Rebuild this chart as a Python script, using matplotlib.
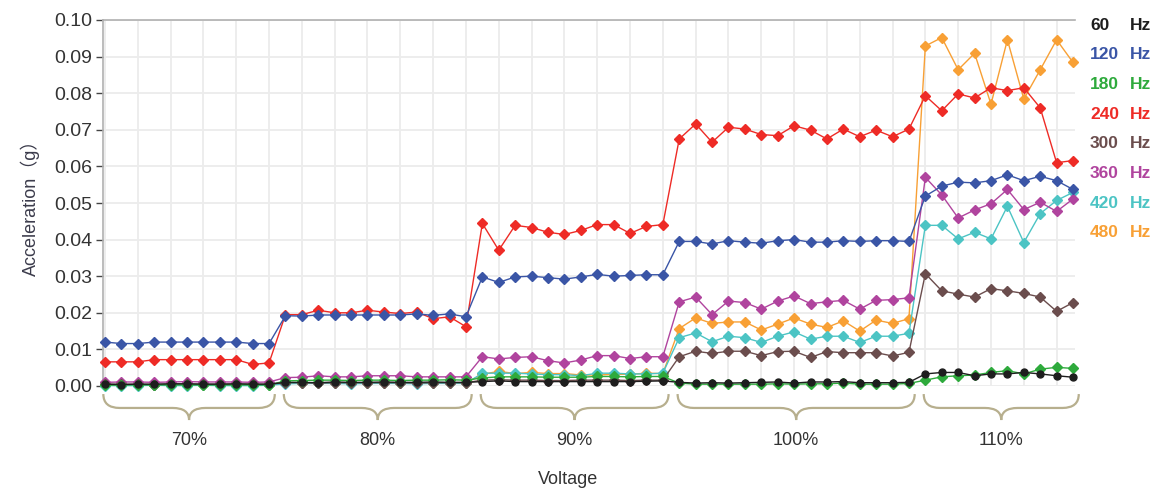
import numpy as np
import matplotlib
matplotlib.use("Agg")
import matplotlib.pyplot as plt
from matplotlib.path import Path
from matplotlib.patches import PathPatch
import matplotlib.transforms as mtransforms

plt.rcParams['font.family'] = ['Liberation Sans', 'Noto Sans CJK SC', 'DejaVu Sans']

# voltage groups and number of samples in each
groups = ["70%", "80%", "90%", "100%", "110%"]
group_sizes = [11, 12, 12, 15, 10]

freq_labels = ["60", "120", "180", "240", "300", "360", "420", "480"]
colors = ["#1e1e1e", "#3a55a6", "#2eaa3c", "#ee2b26", "#6b4d4d", "#b0449e", "#4cc4c4", "#f8a035"]

# acceleration (g), one value per sample
hz60 = [0.0005, 0.0004, 0.0005, 0.0005, 0.0006, 0.0006, 0.0005, 0.0005, 0.0006, 0.0005, 0.0005,
        0.0010, 0.0010, 0.0009, 0.0011, 0.0010, 0.0010, 0.0011, 0.0010, 0.0010, 0.0011, 0.0010, 0.0010,
        0.0012, 0.0014, 0.0012, 0.0012, 0.0012, 0.0012, 0.0012, 0.0012, 0.0012, 0.0012, 0.0013, 0.0014,
        0.0010, 0.0008, 0.0009, 0.0008, 0.0009, 0.0010, 0.0011, 0.0008, 0.0011, 0.0011, 0.0012, 0.0009, 0.0009, 0.0009, 0.0010,
        0.0033, 0.0037, 0.0037, 0.0028, 0.0033, 0.0033, 0.0037, 0.0033, 0.0028, 0.0024]
hz120 = [0.0120, 0.0116, 0.0116, 0.0120, 0.0120, 0.0120, 0.0120, 0.0120, 0.0120, 0.0116, 0.0116,
         0.0192, 0.0191, 0.0194, 0.0194, 0.0194, 0.0194, 0.0194, 0.0194, 0.0197, 0.0193, 0.0197, 0.0189,
         0.0298, 0.0283, 0.0298, 0.0300, 0.0296, 0.0292, 0.0298, 0.0305, 0.0300, 0.0302, 0.0304, 0.0304,
         0.0395, 0.0395, 0.0388, 0.0397, 0.0393, 0.0390, 0.0397, 0.0400, 0.0393, 0.0393, 0.0397, 0.0395, 0.0397, 0.0397, 0.0395,
         0.0519, 0.0546, 0.0557, 0.0555, 0.0561, 0.0577, 0.0561, 0.0573, 0.0561, 0.0537]
hz180 = [0.0002, 0.0003, 0.0003, 0.0003, 0.0003, 0.0003, 0.0003, 0.0003, 0.0003, 0.0003, 0.0003,
         0.0014, 0.0015, 0.0016, 0.0016, 0.0015, 0.0016, 0.0016, 0.0015, 0.0016, 0.0016, 0.0017, 0.0016,
         0.0022, 0.0025, 0.0025, 0.0025, 0.0024, 0.0024, 0.0024, 0.0026, 0.0026, 0.0025, 0.0026, 0.0026,
         0.0008, 0.0005, 0.0005, 0.0005, 0.0005, 0.0005, 0.0006, 0.0005, 0.0006, 0.0006, 0.0008, 0.0005, 0.0005, 0.0005, 0.0007,
         0.0016, 0.0025, 0.0028, 0.0030, 0.0037, 0.0042, 0.0033, 0.0046, 0.0051, 0.0048]
hz240 = [0.0066, 0.0066, 0.0066, 0.0072, 0.0072, 0.0072, 0.0072, 0.0072, 0.0072, 0.0059, 0.0063,
         0.0195, 0.0195, 0.0207, 0.0200, 0.0200, 0.0207, 0.0202, 0.0198, 0.0202, 0.0184, 0.0189, 0.0162,
         0.0444, 0.0371, 0.0439, 0.0433, 0.0420, 0.0414, 0.0425, 0.0441, 0.0441, 0.0417, 0.0436, 0.0441,
         0.0675, 0.0716, 0.0666, 0.0707, 0.0702, 0.0687, 0.0684, 0.0711, 0.0699, 0.0675, 0.0702, 0.0681, 0.0699, 0.0681, 0.0702,
         0.0793, 0.0752, 0.0798, 0.0787, 0.0815, 0.0807, 0.0815, 0.0760, 0.0610, 0.0616]
hz300 = [0.0005, 0.0005, 0.0005, 0.0004, 0.0005, 0.0005, 0.0005, 0.0005, 0.0005, 0.0005, 0.0005,
         0.0009, 0.0009, 0.0008, 0.0009, 0.0009, 0.0009, 0.0009, 0.0009, 0.0008, 0.0009, 0.0009, 0.0009,
         0.0016, 0.0017, 0.0016, 0.0016, 0.0015, 0.0015, 0.0016, 0.0016, 0.0016, 0.0015, 0.0016, 0.0016,
         0.0080, 0.0095, 0.0089, 0.0095, 0.0095, 0.0083, 0.0094, 0.0095, 0.0078, 0.0094, 0.0091, 0.0091, 0.0091, 0.0082, 0.0092,
         0.0307, 0.0260, 0.0251, 0.0243, 0.0266, 0.0260, 0.0253, 0.0243, 0.0204, 0.0228]
hz360 = [0.0010, 0.0011, 0.0011, 0.0010, 0.0011, 0.0012, 0.0011, 0.0011, 0.0011, 0.0010, 0.0011,
         0.0023, 0.0024, 0.0028, 0.0025, 0.0025, 0.0028, 0.0028, 0.0028, 0.0025, 0.0025, 0.0025, 0.0025,
         0.0080, 0.0074, 0.0078, 0.0080, 0.0069, 0.0063, 0.0071, 0.0083, 0.0083, 0.0075, 0.0080, 0.0080,
         0.0230, 0.0243, 0.0195, 0.0232, 0.0228, 0.0210, 0.0232, 0.0246, 0.0225, 0.0230, 0.0234, 0.0210, 0.0234, 0.0236, 0.0241,
         0.0570, 0.0522, 0.0459, 0.0481, 0.0498, 0.0537, 0.0482, 0.0502, 0.0477, 0.0511]
hz420 = [0.0001, 0.0001, 0.0001, 0.0002, 0.0001, 0.0001, 0.0002, 0.0001, 0.0001, 0.0001, 0.0002,
         0.0006, 0.0007, 0.0007, 0.0007, 0.0006, 0.0007, 0.0007, 0.0007, 0.0006, 0.0007, 0.0007, 0.0007,
         0.0035, 0.0035, 0.0035, 0.0033, 0.0031, 0.0031, 0.0028, 0.0035, 0.0035, 0.0033, 0.0033, 0.0035,
         0.0132, 0.0145, 0.0121, 0.0136, 0.0132, 0.0119, 0.0136, 0.0148, 0.0128, 0.0136, 0.0136, 0.0119, 0.0136, 0.0136, 0.0144,
         0.0439, 0.0439, 0.0402, 0.0420, 0.0402, 0.0491, 0.0392, 0.0471, 0.0507, 0.0529]
hz480 = [0.0003, 0.0003, 0.0004, 0.0003, 0.0003, 0.0004, 0.0003, 0.0003, 0.0003, 0.0004, 0.0003,
         0.0008, 0.0008, 0.0009, 0.0008, 0.0008, 0.0008, 0.0009, 0.0008, 0.0008, 0.0008, 0.0009, 0.0008,
         0.0032, 0.0040, 0.0034, 0.0037, 0.0034, 0.0034, 0.0030, 0.0030, 0.0032, 0.0032, 0.0035, 0.0034,
         0.0157, 0.0186, 0.0171, 0.0175, 0.0175, 0.0153, 0.0169, 0.0186, 0.0169, 0.0160, 0.0178, 0.0150, 0.0180, 0.0171, 0.0184,
         0.0929, 0.0952, 0.0864, 0.0909, 0.0770, 0.0946, 0.0784, 0.0864, 0.0946, 0.0884]

series = [hz60, hz120, hz180, hz240, hz300, hz360, hz420, hz480]

fig = plt.figure(figsize=(11.66, 4.92), dpi=100)
ax = fig.add_axes([103 / 1166, 1 - 386 / 492, 972 / 1166, 366 / 492])

x = np.arange(sum(group_sizes))

# draw highest frequency first so the 60 Hz trace ends up on top
for vals, col in reversed(list(zip(series, colors))):
    mk = "o" if col == colors[0] else "D"
    ax.plot(x, vals, color=col, lw=1.0, marker=mk, ms=5 if mk == "o" else 4.6,
            mec=col, mfc=col, clip_on=False, zorder=3)

ax.set_xlim(-0.12, x[-1] + 0.12)
ax.set_ylim(0, 0.10)
ax.set_yticks(np.arange(0, 0.1001, 0.01))
ax.set_yticklabels(["%.2f" % v for v in np.arange(0, 0.1001, 0.01)])
ax.set_xticks(x[::2])
ax.set_xticklabels([])
ax.tick_params(axis="x", length=0)
ax.tick_params(axis="y", length=5, width=1, color="#444444", labelsize=14, labelcolor="#333333", pad=3)
ax.grid(True, color="#ececec", lw=1.3, zorder=0)
ax.set_axisbelow(True)

for side in ["right", "bottom"]:
    ax.spines[side].set_visible(False)
for side in ["left", "top"]:
    ax.spines[side].set_color("#b0b0b0")
    ax.spines[side].set_linewidth(1.2)

ax.set_ylabel("Acceleration（g）", fontsize=13, color="#3c3c4c", labelpad=10)
fig.text(568 / 1166, 1 - 480 / 492, "Voltage", fontsize=13, color="#333333", ha="center", va="center")

# curly braces under each voltage group
trans = mtransforms.blended_transform_factory(ax.transData, ax.transAxes)
top, mid, tip = -0.022, -0.060, -0.093
start = 0
for name, n in zip(groups, group_sizes):
    x0 = start - 0.1
    x1 = start + n - 1 + 0.35
    xc = (x0 + x1) / 2
    r = 1.0
    verts = [(x0, top), (x0, mid), (x0 + r, mid), (xc - r, mid),
             (xc, mid), (xc, tip), (xc, mid), (xc + r, mid),
             (x1 - r, mid), (x1, mid), (x1, top)]
    codes = [Path.MOVETO, Path.CURVE3, Path.CURVE3, Path.LINETO,
             Path.CURVE3, Path.CURVE3, Path.CURVE3, Path.CURVE3,
             Path.LINETO, Path.CURVE3, Path.CURVE3]
    ax.add_patch(PathPatch(Path(verts, codes), fc="none", ec="#b7af8e", lw=1.6,
                           transform=trans, clip_on=False))
    ax.text(xc, -0.148, name, transform=trans, ha="center", va="center",
            fontsize=13, color="#333333")
    start += n

# coloured legend on the right
for i, (lab, col) in enumerate(zip(freq_labels, colors)):
    ypos = 1 - (25 + i * 29.7) / 492
    fig.text(1090 / 1166, ypos, lab, color=col, fontsize=12.5, fontweight="bold", va="center", ha="left")
    fig.text(1130 / 1166, ypos, "Hz", color=col, fontsize=12.5, fontweight="bold", va="center", ha="left")

fig.savefig("out.png", dpi=100)
